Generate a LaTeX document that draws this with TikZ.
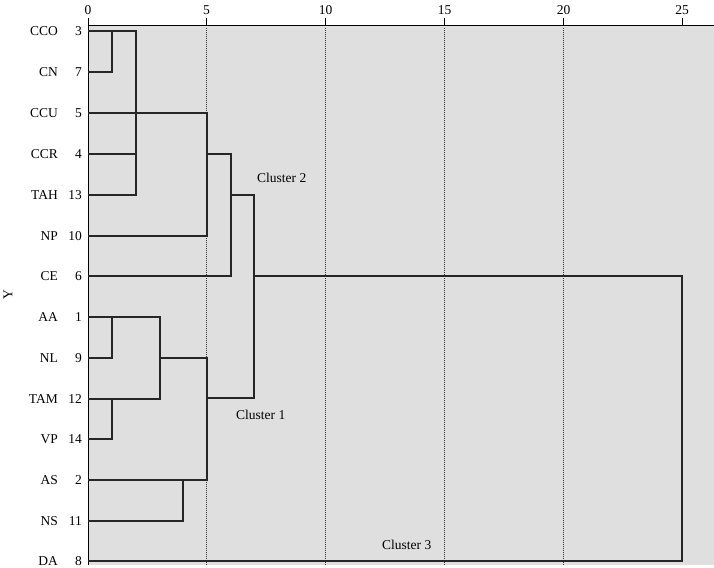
\documentclass[tikz,border=0pt]{standalone}
\usepackage{fontspec}
\setmainfont{Liberation Serif}
\begin{document}
\begin{tikzpicture}[x=1pt,y=-1pt,
  den/.style={line width=1.2pt,black!85},
  lbl/.style={font=\fontsize{13.5}{15}\selectfont,inner sep=0pt},
  grid/.style={densely dotted,line width=1pt,black!80}]
\useasboundingbox (0,0) rectangle (714,567);
\fill[gray!25] (88,26) rectangle (714,565);
\draw[line width=1pt] (88,565) -- (88,26) -- (714,26);
\foreach \v/\x in {0/88,5/206.5,10/325.5,15/444.5,20/563.5,25/682} {
  \draw[line width=0.8pt] (\x,18) -- (\x,26);
  \node[lbl,anchor=south] at (\x,15) {\v};
}
\foreach \x in {206.5,325.5,444.5,563.5} \draw[grid] (\x,28) -- (\x,565);
\foreach \n/\k/\y in {CCO/3/31,CN/7/72,CCU/5/113,CCR/4/154,TAH/13/195,NP/10/236,CE/6/276,AA/1/317,NL/9/358,TAM/12/399,VP/14/439,AS/2/480,NS/11/521,DA/8/561} {
  \node[lbl,anchor=east] at (58,\y) {\n};
  \node[lbl,anchor=east] at (82,\y) {\k};
}
\node[lbl,rotate=90] at (8,295) {Y};
% cluster 2
\draw[den] (88,31) -- (136,31) -- (136,195) -- (88,195);
\draw[den] (88,72) -- (112,72) -- (112,31);
\draw[den] (88,154) -- (136,154);
\draw[den] (88,113) -- (207,113) -- (207,236) -- (88,236);
\draw[den] (207,154) -- (231,154) -- (231,276) -- (88,276);
\draw[den] (231,195) -- (254,195) -- (254,398) -- (207,398);
% cluster 1
\draw[den] (88,317) -- (160,317) -- (160,399) -- (88,399);
\draw[den] (88,358) -- (112,358) -- (112,317);
\draw[den] (88,439) -- (112,439) -- (112,399);
\draw[den] (160,358) -- (207,358) -- (207,480) -- (88,480);
\draw[den] (88,521) -- (183,521) -- (183,480);
% cluster 3
\draw[den] (254,276) -- (682,276) -- (682,561) -- (88,561);
\node[lbl,anchor=west] at (257,178) {Cluster 2};
\node[lbl,anchor=west] at (236,415) {Cluster 1};
\node[lbl,anchor=west] at (382,545) {Cluster 3};
\end{tikzpicture}
\end{document}
